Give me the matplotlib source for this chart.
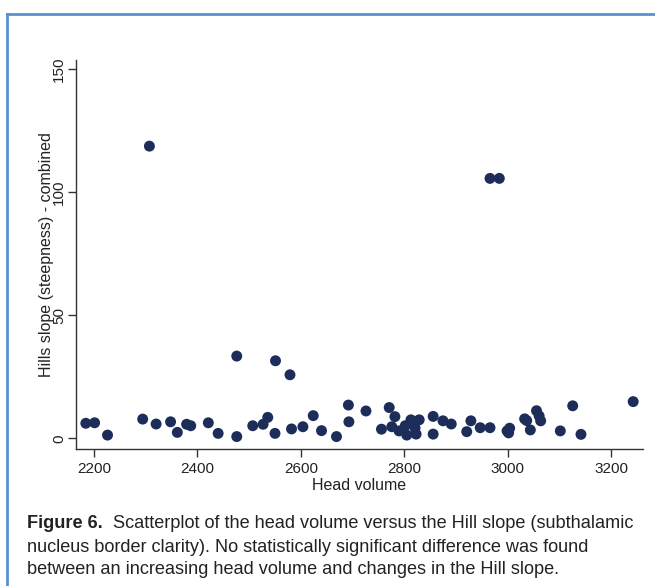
import matplotlib
matplotlib.use("Agg")
import matplotlib.pyplot as plt
from matplotlib.lines import Line2D

plt.rcParams['font.family'] = ['Liberation Sans', 'DejaVu Sans']

head_volume = [2184, 2201, 2226, 2294, 2320, 2348, 2361, 2379, 2387, 2421,
               2440, 2476, 2507, 2527, 2536, 2550, 2582, 2604, 2624, 2640,
               2669, 2692, 2693, 2726, 2756, 2771, 2776, 2782, 2790, 2802,
               2805, 2813, 2821, 2823, 2829, 2856, 2856, 2875, 2891, 2921,
               2929, 2947, 2966, 2999, 3002, 3004, 3033, 3037, 3044, 3056,
               3061, 3064, 3102, 3126, 3142, 3243,
               2307, 2476, 2551, 2579, 2966, 2984]
hill_slope = [6.1, 6.3, 1.3, 7.8, 5.8, 6.7, 2.4, 5.7, 5.1, 6.3,
              2.0, 0.7, 5.1, 5.7, 8.5, 2.0, 3.8, 4.7, 9.2, 3.1,
              0.7, 13.5, 6.7, 11.1, 3.7, 12.5, 4.7, 8.8, 3.0, 5.1,
              1.3, 7.5, 4.2, 1.7, 7.5, 8.9, 1.7, 7.1, 5.8, 2.7,
              7.1, 4.3, 4.3, 3.0, 2.2, 4.1, 7.9, 7.2, 3.4, 11.2,
              9.1, 7.1, 3.0, 13.2, 1.6, 14.9,
              118.7, 33.4, 31.5, 25.8, 105.6, 105.6]

x_ticks = [2200, 2400, 2600, 2800, 3000, 3200]
y_ticks = [0, 50, 100, 150]

x_label = "Head volume"
y_label = "Hills slope (steepness) - combined"
caption_bold = "Figure 6."
caption_rest_1 = "  Scatterplot of the head volume versus the Hill slope (subthalamic"
caption_lines = ["nucleus border clarity). No statistically significant difference was found",
                 "between an increasing head volume and changes in the Hill slope."]

W, H = 655, 586
fig = plt.figure(figsize=(W / 100, H / 100), dpi=100)

ax = fig.add_axes([76 / W, 1 - 449 / H, (643 - 76) / W, (449 - 60) / H])
ax.scatter(head_volume, hill_slope, s=62, color='#1c2d5a', edgecolors='none', zorder=3)
ax.set_xlim(2165, 3262)
ax.set_ylim(-4.35, 153.7)
ax.set_xticks(x_ticks)
ax.set_yticks(y_ticks)
for s in ['top', 'right']:
    ax.spines[s].set_visible(False)
for s in ['left', 'bottom']:
    ax.spines[s].set_color('#333333')
    ax.spines[s].set_linewidth(1.0)
ax.tick_params(axis='both', length=6, width=1.0, color='#333333', labelsize=11, labelcolor='#222222')
ax.tick_params(axis='y', pad=1)
for lab in ax.get_yticklabels():
    lab.set_rotation(90)
    lab.set_va('center')
ax.set_xlabel(x_label, fontsize=11.5, color='#222222', labelpad=1)
ax.set_ylabel(y_label, fontsize=11.5, color='#222222', labelpad=-1)

# blue frame
fig.add_artist(Line2D([7 / W, 1.0], [1 - 14 / H, 1 - 14 / H], color='#5b8fd0', lw=2))
fig.add_artist(Line2D([7 / W, 7 / W], [0, 1 - 14 / H], color='#5b8fd0', lw=2))

# caption
fig.canvas.draw()
r = fig.canvas.get_renderer()
cx = 27 / W
fs = 13.1
t = fig.text(cx, 1 - 524 / H, caption_bold, fontsize=fs, fontweight='bold', color='#222222', va='center')
bb = t.get_window_extent(renderer=r)
fig.text(bb.x1 / (W), 1 - 524 / H, caption_rest_1, fontsize=fs, color='#222222', va='center')
for i, line in enumerate(caption_lines):
    fig.text(cx, 1 - (547 + 22.5 * i) / H, line, fontsize=fs, color='#222222', va='center')

fig.savefig('out.png', dpi=100)
